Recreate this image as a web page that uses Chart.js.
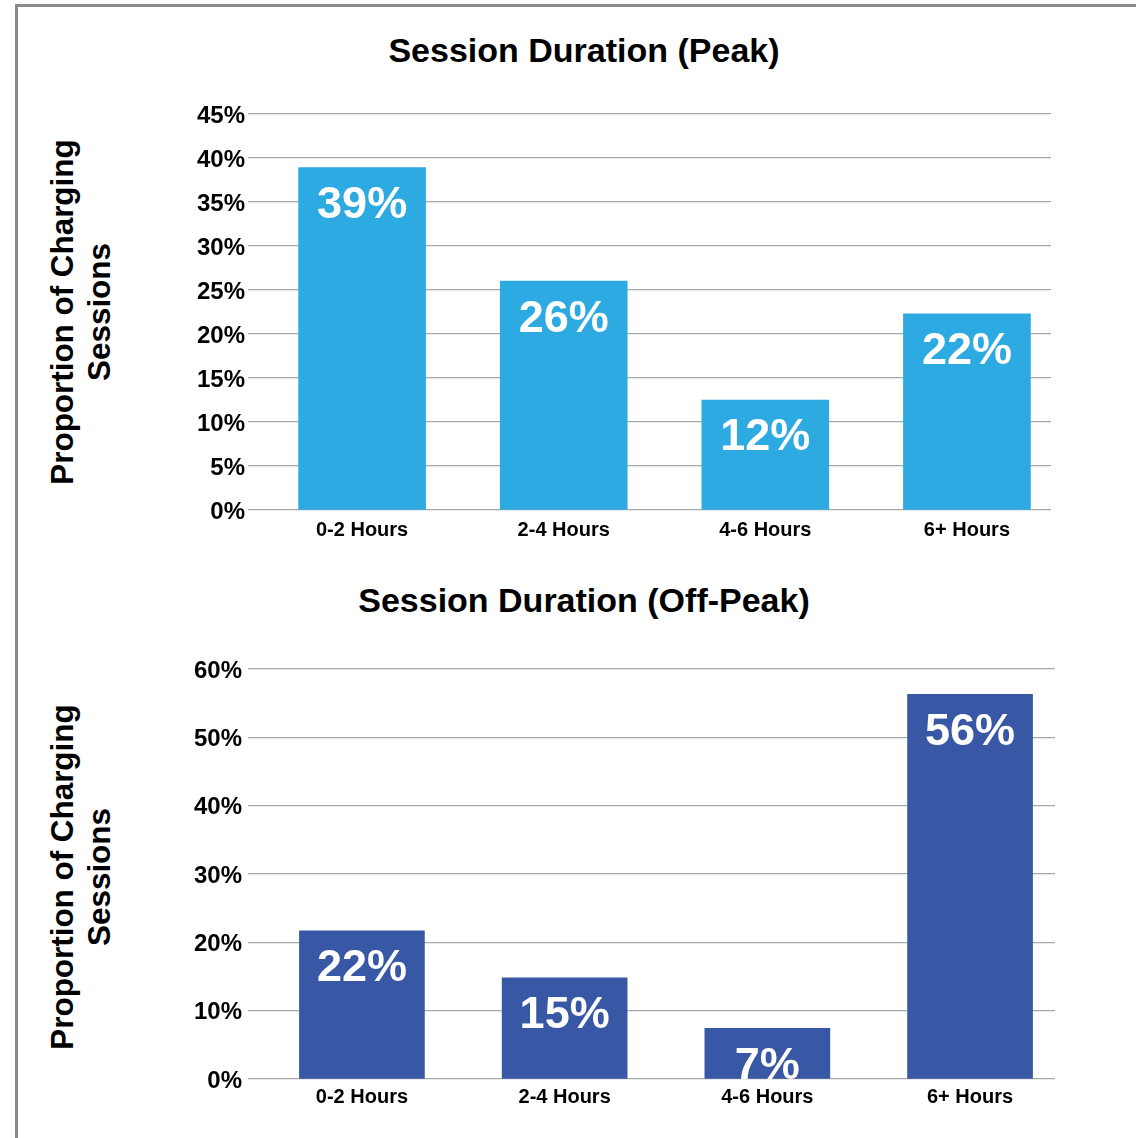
<!DOCTYPE html>
<html>
<head>
<meta charset="utf-8">
<script src="https://cdn.jsdelivr.net/npm/chart.js@4/dist/chart.umd.min.js"></script>
<style>
  html, body { margin: 0; padding: 0; background: #fff; }
  body { width: 1136px; height: 1138px; position: relative; overflow: hidden; font-family: "Liberation Sans", Arial, sans-serif; }
  #frame { position: absolute; left: 15px; top: 4px; width: 1200px; height: 1200px; border-left: 3px solid #8a8a8a; border-top: 3px solid #8a8a8a; }
  .title { position: absolute; left: 0; width: 1168px; text-align: center; font-weight: bold; font-size: 34px; color: #000; line-height: 38px; }
  .ytitle { position: absolute; width: 400px; left: -119px; text-align: center; font-weight: bold; font-size: 31.4px; line-height: 37px; color: #000; transform: rotate(-90deg); }
  canvas { position: absolute; left: 0; }
</style>
</head>
<body>
<div id="frame"></div>
<div class="title" style="top:31px">Session Duration (Peak)</div>
<div class="title" style="top:581px">Session Duration (Off-Peak)</div>
<div class="ytitle" style="top:275px">Proportion of Charging<br>Sessions</div>
<div class="ytitle" style="top:840px">Proportion of Charging<br>Sessions</div>
<div style="position:absolute;left:0;top:0;width:1136px;height:560px"><canvas id="peak"></canvas></div>
<div style="position:absolute;left:0;top:560px;width:1136px;height:578px"><canvas id="offpeak"></canvas></div>
<script>
const categories = ["0-2 Hours", "2-4 Hours", "4-6 Hours", "6+ Hours"];
const peakValues = [38.9, 26.0, 12.5, 22.3];
const offPeakValues = [21.7, 14.8, 7.4, 56.3];
const peakTicks = [0, 5, 10, 15, 20, 25, 30, 35, 40, 45];
const offPeakTicks = [0, 10, 20, 30, 40, 50, 60];

const FONT = '"Liberation Sans", Arial, sans-serif';

const valueLabels = {
  id: 'valueLabels',
  afterDatasetsDraw(chart) {
    const ctx = chart.ctx;
    const meta = chart.getDatasetMeta(0);
    const vals = chart.data.datasets[0].data;
    ctx.save();
    ctx.fillStyle = '#ffffff';
    ctx.font = 'bold 45px ' + FONT;
    ctx.textAlign = 'center';
    ctx.textBaseline = 'middle';
    meta.data.forEach((bar, i) => {
      ctx.fillText(Math.floor(vals[i].y + 0.4) + '%', bar.x, bar.y + 38);
    });
    ctx.restore();
  }
};

function makeChart(id, values, ticks, color, opts) {
  const canvas = document.getElementById(id);
  return new Chart(canvas, {
    type: 'bar',
    data: {
      datasets: [{
        data: values.map((v, i) => ({ x: i, y: v })),
        backgroundColor: color,
        borderWidth: 0,
        barThickness: opts.barThickness
      }]
    },
    plugins: [valueLabels],
    options: {
      responsive: true,
      maintainAspectRatio: false,
      animation: false,
      layout: { padding: { top: opts.top, right: opts.right, bottom: opts.bottom, left: 0 } },
      plugins: { legend: { display: false }, tooltip: { enabled: false }, title: { display: false } },
      scales: {
        x: {
          type: 'linear',
          offset: false,
          min: opts.xmin,
          max: opts.xmax,
          grid: { display: false, drawTicks: false },
          border: { display: false },
          afterBuildTicks(scale) { scale.ticks = categories.map((c, i) => ({ value: i })); },
          afterFit(scale) { scale.height = opts.xHeight; },
          ticks: {
            autoSkip: false,
            maxRotation: 0,
            padding: opts.xPad,
            color: '#000',
            font: { family: FONT, size: 20, weight: 'bold' },
            callback: (v) => categories[v]
          }
        },
        y: {
          min: 0,
          max: ticks[ticks.length - 1],
          afterBuildTicks(scale) { scale.ticks = ticks.map(v => ({ value: v })); },
          afterFit(scale) { scale.width = opts.yWidth; },
          grid: { color: '#a8a8a8', lineWidth: 1.3, drawTicks: false },
          border: { display: false },
          ticks: {
            padding: opts.yPad,
            labelOffset: 2,
            color: '#000',
            font: { family: FONT, size: 24, weight: 'bold' },
            callback: (v) => v + '%'
          }
        }
      }
    }
  });
}

makeChart('peak', peakValues, peakTicks, '#2eaae2', {
  top: 114, right: 85, bottom: 10, xHeight: 40, xPad: 8, yPad: 3, yWidth: 248,
  xmin: -0.566, xmax: 3.417, barThickness: 127
});
makeChart('offpeak', offPeakValues, offPeakTicks, '#3857a4', {
  top: 109, right: 81, bottom: 19, xHeight: 40, xPad: 6, yPad: 6, yWidth: 248,
  xmin: -0.562, xmax: 3.419, barThickness: 125
});
</script>
</body>
</html>
